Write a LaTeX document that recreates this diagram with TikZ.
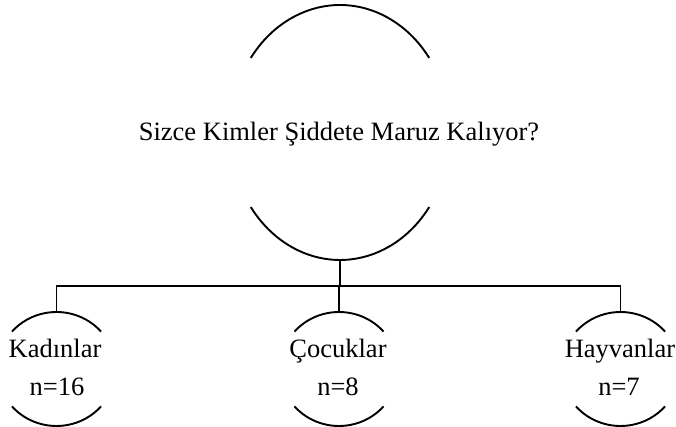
\documentclass[tikz,border=0pt]{standalone}
\usepackage{fontspec}
\setmainfont{Liberation Serif}
\usetikzlibrary{shapes.geometric}
\begin{document}
\begin{tikzpicture}[x=1pt,y=1pt,
  arcline/.style={line width=1.9pt},
  conn/.style={line width=1.9pt},
  shape holder/.style={ellipse,draw=none,inner sep=0pt},
  lbl/.style={font=\fontsize{26.5}{30}\selectfont,anchor=base,inner sep=0pt}]
\useasboundingbox (0,0) rectangle (676,427);
% invisible ellipse holders
\node[shape holder,minimum width=220pt,minimum height=255pt] (main) at (340,294.5) {};
\node[shape holder,minimum width=118pt,minimum height=114pt] (kad) at (56.5,58) {};
\node[shape holder,minimum width=118pt,minimum height=114pt] (coc) at (339,58) {};
\node[shape holder,minimum width=118pt,minimum height=114pt] (hay) at (620.5,58) {};
% arcs
\draw[arcline] (main.center) ++(35.8:110pt and 127.5pt) arc[start angle=35.8,end angle=144.2,x radius=110pt,y radius=127.5pt];
\draw[arcline] (main.center) ++(-144.2:110pt and 127.5pt) arc[start angle=-144.2,end angle=-35.8,x radius=110pt,y radius=127.5pt];
\foreach \n in {kad,coc,hay}{
  \draw[arcline] (\n.center) ++(41:59pt and 57pt) arc[start angle=41,end angle=139,x radius=59pt,y radius=57pt];
  \draw[arcline] (\n.center) ++(-139:59pt and 57pt) arc[start angle=-139,end angle=-41,x radius=59pt,y radius=57pt];
}
% connectors
\coordinate (bus) at (339,141);
\draw[conn] (main.south) -- (main.south |- bus);
\draw[conn] (kad.north) |- (bus) -| (hay.north);
\draw[conn] (bus) -- (coc.north);
% labels
\node[lbl] (q) at (339,286) {Sizce Kimler Şiddete Maruz Kalıyor?};
\node[lbl] (t1) at (55,69.5) {Kadınlar};
\node[lbl] (n1) at (57,31) {n=16};
\node[lbl] (t2) at (338,69.5) {Çocuklar};
\node[lbl] (n2) at (338,31) {n=8};
\node[lbl] (t3) at (620,69.5) {Hayvanlar};
\node[lbl] (n3) at (619,31) {n=7};
\end{tikzpicture}
\end{document}
